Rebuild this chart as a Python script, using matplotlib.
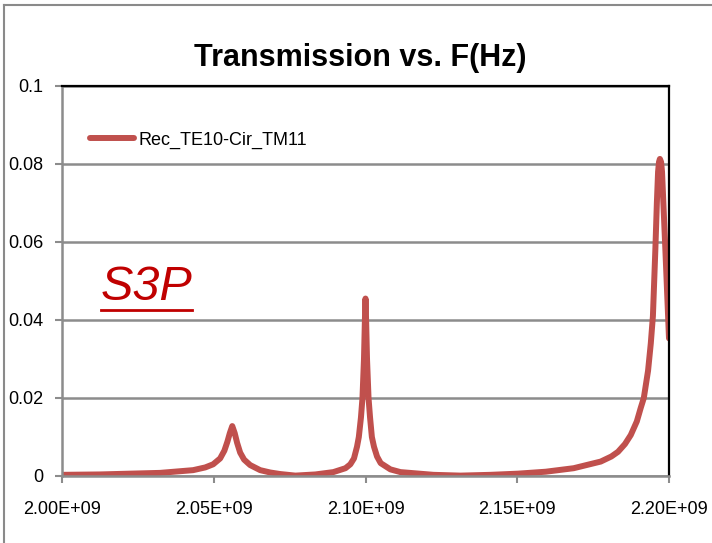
import matplotlib
matplotlib.use("Agg")
import matplotlib.pyplot as plt
from matplotlib.lines import Line2D
from matplotlib.ticker import FuncFormatter

# Transmission of the Rec_TE10 -> Cir_TM11 mode conversion (frequency in Hz)
freq_hz = [
    2.0000e9, 2.0125e9, 2.0224e9, 2.0323e9, 2.0432e9, 2.0472e9, 2.0498e9,
    2.0521e9, 2.0535e9, 2.0545e9, 2.0553e9, 2.0561e9, 2.0569e9, 2.0577e9,
    2.0587e9, 2.0600e9, 2.0620e9, 2.0653e9, 2.0686e9, 2.0719e9, 2.0769e9,
    2.0835e9, 2.0894e9, 2.0934e9, 2.0950e9, 2.0962e9, 2.0972e9, 2.0978e9,
    2.0985e9, 2.0990e9, 2.0995e9, 2.0998e9, 2.1000e9, 2.1002e9, 2.1005e9,
    2.1010e9, 2.1015e9, 2.1021e9, 2.1028e9, 2.1038e9, 2.1050e9, 2.1082e9,
    2.1115e9, 2.1224e9, 2.1313e9, 2.1412e9, 2.1502e9, 2.1594e9, 2.1686e9,
    2.1775e9, 2.1810e9, 2.1832e9, 2.1855e9, 2.1874e9, 2.1894e9, 2.1907e9,
    2.1917e9, 2.1931e9, 2.1940e9, 2.1947e9, 2.1955e9, 2.1960e9, 2.1964e9,
    2.1967e9, 2.1970e9, 2.1974e9, 2.1977e9, 2.1987e9, 2.2000e9,
]
transmission = [
    0.0003, 0.0004, 0.0006, 0.0008, 0.0015, 0.0022, 0.0030,
    0.0045, 0.0065, 0.0088, 0.0110, 0.0128, 0.0110, 0.0085,
    0.0060, 0.0042, 0.0028, 0.0015, 0.0009, 0.0005, 0.0001,
    0.0004, 0.0010, 0.0020, 0.0030, 0.0045, 0.0075, 0.0100,
    0.0150, 0.0200, 0.0300, 0.0400, 0.0455, 0.0400, 0.0300,
    0.0200, 0.0150, 0.0100, 0.0075, 0.0050, 0.0033, 0.0017,
    0.0010, 0.0003, 0.0001, 0.0003, 0.0006, 0.0011, 0.0020,
    0.0037, 0.0050, 0.0062, 0.0082, 0.0105, 0.0140, 0.0175,
    0.0200, 0.0270, 0.0340, 0.0410, 0.0580, 0.0700, 0.0780,
    0.0805, 0.0813, 0.0805, 0.0780, 0.0600, 0.0353,
]
series_label = "Rec_TE10-Cir_TM11"
x_ticks = [2.00e9, 2.05e9, 2.10e9, 2.15e9, 2.20e9]
y_ticks = [0, 0.02, 0.04, 0.06, 0.08, 0.1]

sans = ["Liberation Sans", "DejaVu Sans"]
grid_gray = "#8c8c8c"

fig = plt.figure(figsize=(7.12, 5.43), dpi=100)
ax = fig.add_axes([62 / 712, 1 - 476 / 543, 607 / 712, 390 / 543])

ax.plot(freq_hz, transmission, color="#c0504d", lw=4.3,
        solid_capstyle="round", solid_joinstyle="round", label=series_label)

ax.set_xlim(2.0e9, 2.2e9)
ax.set_ylim(0, 0.1)
ax.set_xticks(x_ticks)
ax.set_yticks(y_ticks)
ax.xaxis.set_major_formatter(FuncFormatter(lambda v, p: f"{v:.2E}"))
ax.yaxis.set_major_formatter(FuncFormatter(
    lambda v, p: "0" if v == 0 else f"{v:g}"))
ax.grid(axis="y", color=grid_gray, lw=1.8)
ax.set_axisbelow(True)

for side in ("left", "bottom"):
    ax.spines[side].set_color(grid_gray)
    ax.spines[side].set_linewidth(1.8)
for side in ("top", "right"):
    ax.spines[side].set_color("black")
    ax.spines[side].set_linewidth(1.6)
ax.tick_params(axis="both", colors=grid_gray, width=1.5, length=5,
               labelcolor="black")
ax.tick_params(axis="y", pad=8.5)
ax.tick_params(axis="x", pad=13)
for lab in ax.get_xticklabels() + ax.get_yticklabels():
    lab.set_family(sans)
    lab.set_fontsize(13)

fig.text(0.506, 1 - 58 / 543, "Transmission vs. F(Hz)", ha="center",
         va="center", fontsize=22, fontweight="bold", family=sans)

ax.legend(loc="upper left", bbox_to_anchor=(0.02, 0.925),
          frameon=False, handlelength=2.4, handletextpad=0.25,
          prop={"family": sans, "size": 13})

# S3P marker text, underlined
fig.text(101 / 712, 1 - 287 / 543, "S3P", color="#c00000", fontsize=35,
         style="italic", family=sans, va="center", ha="left")
fig.add_artist(Line2D([101 / 712, 192 / 712], [1 - 310 / 543, 1 - 310 / 543],
                      color="#c00000", lw=2))

# outer chart frame
fig.add_artist(Line2D([4 / 712, 4 / 712], [0, 1 - 5 / 543],
                      color="#8a8a8a", lw=1.5))
fig.add_artist(Line2D([4 / 712, 1], [1 - 5 / 543, 1 - 5 / 543],
                      color="#8a8a8a", lw=1.5))

fig.savefig("out.png", dpi=100)
